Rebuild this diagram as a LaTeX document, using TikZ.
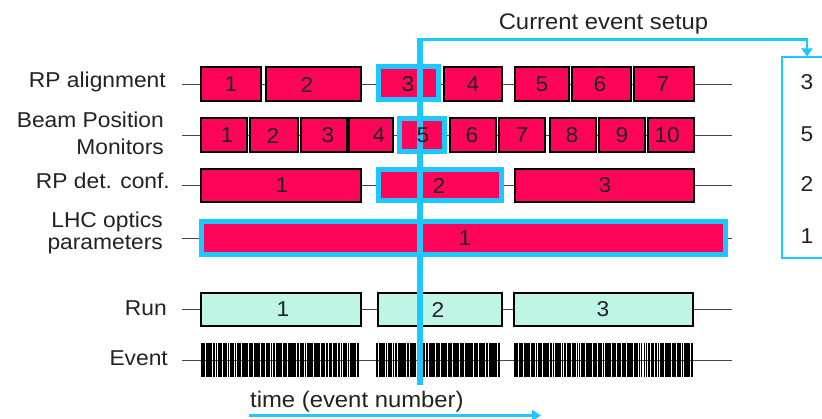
\documentclass[tikz,border=0pt]{standalone}
\usepackage{fontspec}
\setmainfont{Liberation Sans}[FakeStretch=1.06]
\usetikzlibrary{arrows.meta}

\definecolor{rpred}{RGB}{255,5,90}
\definecolor{cursorcyan}{RGB}{28,200,255}
\definecolor{runmint}{RGB}{190,245,229}
\definecolor{ink}{RGB}{34,34,34}
\definecolor{lanegray}{RGB}{70,70,70}

% \slot{name}{style}{x1}{x2}{y1}{y2}: an empty box spanning the given interval
\newcommand\slot[6]{%
  \node[#2, minimum width={#4pt-#3pt}, minimum height={#6pt-#5pt}]
    (#1) at ({(#3+#4)/2},{(#5+#6)/2}) {};}

\tikzset{
  lane/.style={draw=lanegray, line width=0.9pt},
  slotbox/.style={rectangle, draw=black, line width=1.2pt, fill=rpred,
                  inner sep=0pt, outer sep=0pt},
  curbox/.style={rectangle, draw=cursorcyan, line width=5pt, fill=rpred,
                 inner sep=0pt, outer sep=0pt},
  runbox/.style={slotbox, fill=runmint},
  num/.style={text=ink, font=\fontsize{21.5}{25}\selectfont, inner sep=0pt},
  rowlabel/.style={text=ink, font=\fontsize{21.5}{25}\selectfont, inner sep=0pt,
                   anchor=base east},
  evtick/.style={draw=black, line width=1.9pt},
  cursor/.style={draw=cursorcyan, line width=6pt},
  feed/.style={draw=cursorcyan, line width=2.5pt},
  setupbox/.style={rectangle, draw=cursorcyan, line width=2.5pt,
                   inner sep=0pt, outer sep=0pt},
  caption/.style={text=ink, font=\fontsize{22.5}{26}\selectfont, inner sep=0pt},
}

\begin{document}
\begin{tikzpicture}[x=1pt, y=-1pt]
\useasboundingbox (0,0) rectangle (822,419);

% ---- time lanes ----
\foreach \nm/\yy in {ra/84, bpm/135, det/185.5, lhc/238, run/309.5, ev/360} {
  \coordinate (\nm-s) at (182,\yy);
  \coordinate (\nm-e) at (732,\yy);
  \draw[lane] (\nm-s) -- (\nm-e);
}

% ---- RP alignment ----
\slot{ra1}{slotbox}{201}{261}{67}{101}
\slot{ra2}{slotbox}{266}{361}{67}{101}
\slot{ra3}{curbox}{378.5}{438.5}{66.5}{99.5}
\slot{ra4}{slotbox}{444}{502}{67}{101}
\slot{ra5}{slotbox}{515}{569}{67}{101}
\slot{ra6}{slotbox}{572}{631}{67}{101}
\slot{ra7}{slotbox}{634}{694}{67}{101}

% ---- Beam Position Monitors ----
\slot{bpm1}{slotbox}{201}{247}{118}{152}
\slot{bpm2}{slotbox}{250}{298}{118}{152}
\slot{bpm3}{slotbox}{301}{347}{118}{152}
\slot{bpm4}{slotbox}{349}{393}{118}{152}
\slot{bpm5}{curbox}{399.5}{444.5}{118.5}{151.5}
\slot{bpm6}{slotbox}{450}{496}{118}{152}
\slot{bpm7}{slotbox}{499}{545}{118}{152}
\slot{bpm8}{slotbox}{550}{596}{118}{152}
\slot{bpm9}{slotbox}{599}{645}{118}{152}
\slot{bpm10}{slotbox}{648}{694}{118}{152}

% ---- RP detector configuration ----
\slot{det1}{slotbox}{201}{361}{169}{202}
\slot{det2}{curbox}{378.5}{501.5}{169.5}{200.5}
\slot{det3}{slotbox}{515}{694}{169}{202}

% ---- LHC optics parameters ----
\slot{lhc1}{curbox}{201.5}{725.5}{221.5}{254.5}

% ---- runs ----
\slot{run1}{runbox}{201}{361}{293}{326}
\slot{run2}{runbox}{378}{502}{293}{326}
\slot{run3}{runbox}{514}{693}{293}{326}

% ---- events: dense ticks per run ----
\pgfmathsetseed{7}
\foreach \a/\b/\n in {202/358/65, 377/499/51, 515/692/74} {
  \foreach \k in {0,...,\n} {
    \pgfmathsetmacro\xx{\a+\k*(\b-\a)/\n+0.7*(rnd-0.5)}
    \draw[evtick] (\xx,343) -- (\xx,377);
  }
}

% ---- current event cursor ----
\coordinate (cur-top) at (420,38.5);
\coordinate (cur-bot) at (420,385);
\draw[cursor] (cur-top) -- (cur-bot);

% ---- current event setup panel ----
\node[setupbox, minimum width=46pt, minimum height=201pt] (setup) at (805,157.5) {};
\coordinate (feed-start) at (420,39.75);
\coordinate (setup-in) at (807,56.5);
\draw[feed, -{Triangle[length=8pt,width=11pt]}] (feed-start) -| (setup-in);
\node[caption, anchor=base] (setup-cap) at (603.5,29.5) {Current event setup};
\node[num, anchor=base] (set-ra) at (807,90) {3};
\node[num, anchor=base] (set-bpm) at (807,142) {5};
\node[num, anchor=base] (set-det) at (807,192) {2};
\node[num, anchor=base] (set-lhc) at (807,244) {1};

% ---- time axis ----
\coordinate (t0) at (249,415.5);
\coordinate (t1) at (541,415.5);
\draw[feed, -{Triangle[length=9pt,width=11pt]}] (t0) -- (t1);
\node[caption, anchor=base west] (time-cap) at (250,408) {time (event number)};

% ---- row labels ----
\node[rowlabel] (lab-ra) at (166,88) {RP alignment};
\node[rowlabel] (lab-bpm1) at (164,128) {Beam Position};
\node[rowlabel] (lab-bpm2) at (164,155) {Monitors};
\node[rowlabel] (lab-det) at (170,189) {RP det. conf.};
\node[rowlabel] (lab-lhc1) at (163,228) {LHC optics};
\node[rowlabel] (lab-lhc2) at (163,250) {parameters};
\node[rowlabel] (lab-run) at (167,316) {Run};
\node[rowlabel] (lab-ev) at (168,365.5) {Event};

% ---- box numbers ----
\foreach \nm/\xx/\t in {ra1/231/1, ra2/307/2, ra3/408/3, ra4/473/4, ra5/542/5,
                        ra6/600/6, ra7/663/7} {
  \node[num] (\nm-t) at (\xx,84.5) {\t};
}
\foreach \nm/\xx/\t in {bpm1/227/1, bpm2/273/2, bpm3/328/3, bpm4/379/4, bpm5/423/5,
                        bpm6/472/6, bpm7/522/7, bpm8/572/8, bpm9/622/9, bpm10/667/10} {
  \node[num] (\nm-t) at (\xx,135.5) {\t};
}
\foreach \nm/\xx/\t in {det1/282/1, det2/439/2, det3/605/3} {
  \node[num] (\nm-t) at (\xx,185.5) {\t};
}
\node[num] (lhc1-t) at (465,238) {1};
\foreach \nm/\xx/\t in {run1/283/1, run2/438/2, run3/603/3} {
  \node[num] (\nm-t) at (\xx,309.5) {\t};
}
\end{tikzpicture}
\end{document}
